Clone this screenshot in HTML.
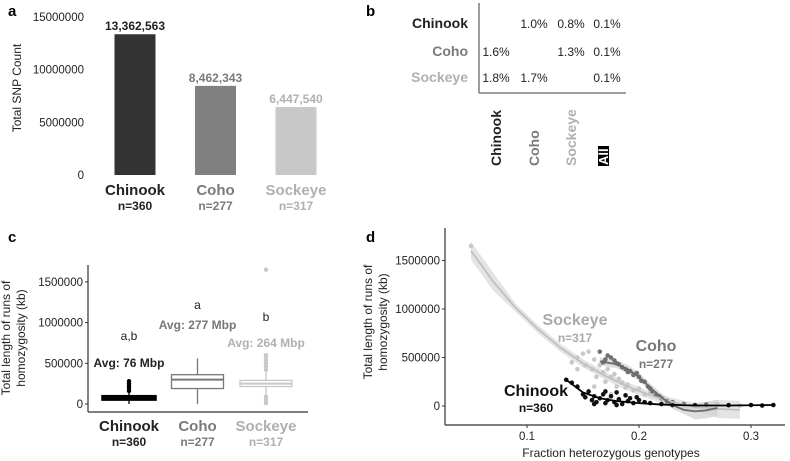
<!DOCTYPE html>
<html><head><meta charset="utf-8"><style>
html,body{margin:0;padding:0;background:#fff}
svg{display:block;font-family:"Liberation Sans",Arial,sans-serif}
</style></head><body>
<svg id="s" width="790" height="461" viewBox="0 0 790 461">
<g>
<text x="8" y="16" font-size="15" font-weight="bold">a</text>
<text transform="translate(21,88) rotate(-90)" text-anchor="middle" font-size="12" fill="#222">Total SNP Count</text>
<g id="ga"></g>
</g>
<g>
<text x="366" y="16" font-size="15" font-weight="bold">b</text>
<line x1="479" y1="3" x2="479" y2="93" stroke="#666" stroke-width="1.3"/>
<line x1="479" y1="93" x2="626" y2="93" stroke="#666" stroke-width="1.3"/>
<g id="gb"></g>
</g>
<g>
<text x="8" y="242" font-size="15" font-weight="bold">c</text>
<text transform="translate(10,338) rotate(-90)" text-anchor="middle" font-size="12" fill="#222">Total length of runs of</text>
<text transform="translate(25,338) rotate(-90)" text-anchor="middle" font-size="12" fill="#222">homozygosity (kb)</text>
<g id="gc"></g>
</g>
<g>
<text x="366" y="242" font-size="15" font-weight="bold">d</text>
<text transform="translate(372,322) rotate(-90)" text-anchor="middle" font-size="12" fill="#222">Total length of runs of</text>
<text transform="translate(387,322) rotate(-90)" text-anchor="middle" font-size="12" fill="#222">homozygosity (kb)</text>
<text x="611" y="457" text-anchor="middle" font-size="12" fill="#222">Fraction heterozygous genotypes</text>
<g id="gd"></g>
</g>
</svg>
<script>
// ---- data ----
const species = ["Chinook","Coho","Sockeye"];
const sampleN = ["n=360","n=277","n=317"];
const snpCounts = [13362563, 8462343, 6447540];
const snpLabels = ["13,362,563","8,462,343","6,447,540"];
const aTicks = [0, 5000000, 10000000, 15000000];
const aTickLabels = ["0","5000000","10000000","15000000"];
// panel b
const bRows = ["Chinook","Coho","Sockeye"];
const bCols = ["Chinook","Coho","Sockeye","All"];
const bValues = [["","1.0%","0.8%","0.1%"],["1.6%","","1.3%","0.1%"],["1.8%","1.7%","","0.1%"]];
// panel c box stats: [min,q1,median,q3,max]
const boxStats = [[0,60000,75000,90000,150000],[0,190000,300000,360000,560000],[100000,215000,250000,290000,400000]];
const boxOutliers = [[160000,190000,220000,250000,280000],[],[10000,40000,70000,90000,420000,460000,500000,540000,580000,600000,1650000]];
const cLetters = ["a,b","a","b"];
const cAvg = ["Avg: 76 Mbp","Avg: 277 Mbp","Avg: 264 Mbp"];
const cTicks = [0,500000,1000000,1500000];
const cTickLabels = ["0","500000","1000000","1500000"];
// panel d
const dXTicks = [0.1,0.2,0.3];
const dYTicks = [0,500000,1000000,1500000];
const chinookX = [0.135,0.14,0.145,0.15,0.152,0.155,0.158,0.16,0.162,0.165,0.168,0.17,0.172,0.175,0.178,0.18,0.182,0.185,0.188,0.19,0.192,0.195,0.198,0.2,0.205,0.21,0.22,0.23,0.25,0.28,0.3,0.31,0.32,0.17,0.18,0.16];
const chinookY = [270000,240000,200000,120000,90000,150000,60000,100000,40000,80000,120000,30000,60000,100000,40000,140000,70000,20000,110000,50000,80000,30000,90000,60000,40000,30000,20000,10000,5000,8000,10000,5000,10000,150000,10000,20000];
const cohoX = [0.165,0.168,0.17,0.172,0.175,0.178,0.18,0.182,0.185,0.188,0.19,0.192,0.195,0.198,0.2,0.202,0.205,0.208,0.21,0.212,0.215,0.218,0.22,0.225,0.23,0.24,0.25,0.26];
const cohoY = [560000,450000,480000,520000,500000,470000,440000,430000,400000,380000,350000,360000,320000,340000,300000,260000,250000,200000,180000,150000,110000,100000,80000,50000,40000,20000,10000,15000];
const sockeyeX = [0.05,0.14,0.145,0.15,0.152,0.155,0.158,0.16,0.162,0.165,0.168,0.17,0.172,0.175,0.178,0.18,0.182,0.185,0.188,0.19,0.195,0.2,0.205,0.21,0.215,0.22,0.23,0.24,0.25,0.26,0.27,0.28,0.29,0.16,0.175,0.145];
const sockeyeY = [1650000,450000,500000,540000,420000,560000,380000,480000,300000,420000,350000,250000,380000,300000,330000,200000,280000,240000,190000,220000,160000,180000,120000,140000,100000,80000,40000,20000,10000,15000,20000,10000,5000,200000,120000,380000];
const fitChinookX = [0.135,0.15,0.165,0.18,0.2,0.22,0.25,0.28,0.32];
const fitChinookY = [270000,140000,80000,50000,30000,15000,5000,5000,10000];
const fitCohoX = [0.165,0.18,0.19,0.2,0.21,0.22,0.23,0.24,0.25,0.26,0.27];
const fitCohoY = [460000,430000,380000,300000,190000,90000,10000,-40000,-55000,-45000,-20000];
const fitSockX = [0.05,0.07,0.09,0.11,0.13,0.15,0.17,0.19,0.21,0.23,0.25,0.27,0.29];
const fitSockY = [1600000,1280000,1010000,790000,600000,440000,310000,200000,110000,40000,-10000,-30000,-40000];

// ---- helpers ----
const NS="http://www.w3.org/2000/svg";
function mk(tag, attrs, parent){const e=document.createElementNS(NS,tag);for(const k in attrs)e.setAttribute(k,attrs[k]);parent.appendChild(e);return e;}
function txt(parent,x,y,s,attrs){const e=mk("text",Object.assign({x:x,y:y},attrs),parent);e.textContent=s;return e;}
const spColor=["#222","#7a7a7a","#b0b0b0"];
const barColor=["#333","#808080","#c8c8c8"];

// ---- panel a ----
const ga=document.getElementById("ga");
const ay=v=>175-v/15000000*158;
const ax=i=>135+i*80.5;
aTicks.forEach((t,i)=>{const e=txt(ga,84,ay(t)+4,aTickLabels[i],{"text-anchor":"end","font-size":"11.5",fill:"#222"});

});
snpCounts.forEach((v,i)=>{
 const r=mk("rect",{x:ax(i)-20.5,y:ay(v),width:41,height:175-ay(v),fill:barColor[i]},ga);
 
 
 const l=txt(ga,ax(i),ay(v)-4,snpLabels[i],{"text-anchor":"middle","font-size":"12","font-weight":"bold",fill:spColor[i]});
 
 
 const c=txt(ga,ax(i),195,species[i],{"text-anchor":"middle","font-size":"15","font-weight":"bold",fill:spColor[i]});
 
 
 const n=txt(ga,ax(i),210,sampleN[i],{"text-anchor":"middle","font-size":"12","font-weight":"bold",fill:spColor[i]});
 
 
});

// ---- panel b ----
const gb=document.getElementById("gb");
const rowY=[23,51,77], colX=[496,534,571,607];
bRows.forEach((r,i)=>{
 const e=txt(gb,468,rowY[i]+5,r,{"text-anchor":"end","font-size":"14","font-weight":"bold",fill:spColor[i]});
 
 
 bValues[i].forEach((v,j)=>{ if(!v)return;
  const c=txt(gb,colX[j],rowY[i]+5,v,{"text-anchor":"middle","font-size":"12",fill:"#222"});
  
  });
});
bCols.forEach((c,j)=>{
 if(j<3){const e=txt(gb,0,0,c,{transform:`translate(${colX[j]+5},166) rotate(-90)`,"font-size":"14","font-weight":"bold",fill:spColor[j]});
 
 }
 else{mk("rect",{x:598,y:146,width:11,height:20,fill:"#000"},gb);
 const e=txt(gb,0,0,c,{transform:`translate(608,165) rotate(-90)`,"font-size":"13","font-weight":"bold",fill:"#fff"});
 
 }
});

// ---- panel c ----
const gc=document.getElementById("gc");
const cy=v=>404-v/500000*40.7;
const cx=i=>129+i*68.5;
mk("line",{x1:88,y1:265,x2:88,y2:412,stroke:"#333","stroke-width":1.2},gc);
mk("line",{x1:88,y1:412,x2:308,y2:412,stroke:"#333","stroke-width":1.2},gc);
cTicks.forEach((t,i)=>{mk("line",{x1:85,y1:cy(t),x2:88,y2:cy(t),stroke:"#333"},gc);
 const e=txt(gc,83,cy(t)+4,cTickLabels[i],{"text-anchor":"end","font-size":"11.5",fill:"#222"});
 
 });
boxStats.forEach((b,i)=>{
 const x=cx(i), col=[ "#000","#777","#c8c8c8"][i], w=i==0?3.5:1.3, hw=26;
 const g=mk("g",{},gc);
 
 
 mk("line",{x1:x,y1:cy(b[0]),x2:x,y2:cy(b[1]),stroke:col,"stroke-width":1.3},g);
 mk("line",{x1:x,y1:cy(b[3]),x2:x,y2:cy(b[4]),stroke:col,"stroke-width":1.3},g);
 mk("rect",{x:x-hw,y:cy(b[3]),width:hw*2,height:Math.max(cy(b[1])-cy(b[3]),1),fill:i==0?"#000":"#fff",stroke:col,"stroke-width":w},g);
 mk("line",{x1:x-hw,y1:cy(b[2]),x2:x+hw,y2:cy(b[2]),stroke:col,"stroke-width":2},g);
 boxOutliers[i].forEach(o=>{mk("circle",{cx:x,cy:cy(o),r:2.2,fill:col},g);});
 const a=txt(gc,x,[340,309,321][i],cLetters[i],{"text-anchor":"middle","font-size":"12",fill:"#222"});
 
 
 const v=txt(gc,x,[367,329,347][i],cAvg[i],{"text-anchor":"middle","font-size":"12","font-weight":"bold",fill:["#222","#777","#b0b0b0"][i]});
 
 
 const c=txt(gc,x,431,species[i],{"text-anchor":"middle","font-size":"15","font-weight":"bold",fill:spColor[i]});
 
 
 const n=txt(gc,x,446,sampleN[i],{"text-anchor":"middle","font-size":"12","font-weight":"bold",fill:spColor[i]});
 
 
});

// ---- panel d ----
const gd=document.getElementById("gd");
const dx=v=>527+(v-0.1)*1120;
const dy=v=>406-v/500000*48.5;
mk("line",{x1:445,y1:228,x2:445,y2:425,stroke:"#333","stroke-width":1.2},gd);
mk("line",{x1:445,y1:425,x2:785,y2:425,stroke:"#333","stroke-width":1.2},gd);
dYTicks.forEach(t=>{mk("line",{x1:442,y1:dy(t),x2:445,y2:dy(t),stroke:"#333"},gd);
 const e=txt(gd,440,dy(t)+4,String(t),{"text-anchor":"end","font-size":"11.5",fill:"#222"});
 
 });
dXTicks.forEach(t=>{mk("line",{x1:dx(t),y1:425,x2:dx(t),y2:428,stroke:"#333"},gd);
 const e=txt(gd,dx(t),440,String(t),{"text-anchor":"middle","font-size":"11.5",fill:"#222"});
 
 });
function band(xs,ys,w,fill,name){
 let top=xs.map((x,i)=>`${dx(x)},${dy(ys[i])-w(i)}`), bot=xs.map((x,i)=>`${dx(x)},${dy(ys[i])+w(i)}`).reverse();
 const p=mk("polygon",{points:top.concat(bot).join(" "),fill:fill,opacity:0.7},gd);
 
 
}
function line(xs,ys,col,name){
 const p=mk("polyline",{points:xs.map((x,i)=>`${dx(x)},${dy(ys[i])}`).join(" "),fill:"none",stroke:col,"stroke-width":1.8},gd);
 
 
}
function pts(xs,ys,col,name){
 const g=mk("g",{},gd);
 
 
 xs.forEach((x,i)=>mk("circle",{cx:dx(x),cy:dy(ys[i]),r:2.3,fill:col},g));
}
band(fitSockX,fitSockY,i=>(i<2||i>10)?9:4,"#d8d8d8","sockeye-confidence-band");
band(fitCohoX,fitCohoY,i=>(i>7)?8:4,"#d0d0d0","coho-confidence-band");
pts(sockeyeX,sockeyeY,"#c8c8c8","sockeye-points");
pts(cohoX,cohoY,"#707070","coho-points");
pts(chinookX,chinookY,"#111","chinook-points");
line(fitSockX,fitSockY,"#c0c0c0","sockeye-fit-line");
line(fitCohoX,fitCohoY,"#6a6a6a","coho-fit-line");
line(fitChinookX,fitChinookY,"#000","chinook-fit-line");
const dl=[[575,325,"Sockeye","#aaa"],[575,342,"n=317","#aaa"],[656,351,"Coho","#777"],[656,368,"n=277","#777"],[536,396,"Chinook","#111"],[536,412,"n=360","#111"]];
dl.forEach((d,i)=>{const e=txt(gd,d[0],d[1],d[2],{"text-anchor":"middle","font-size":i%2?"12":"16","font-weight":"bold",fill:d[3]});
 
 });
</script>
</body></html>
